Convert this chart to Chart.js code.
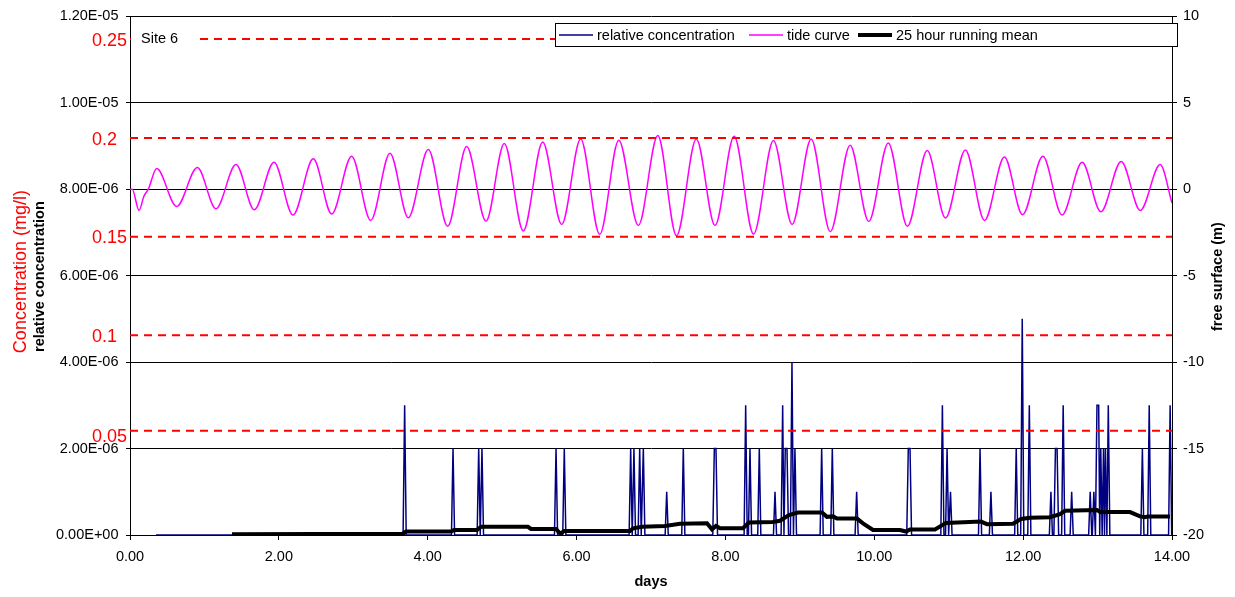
<!DOCTYPE html>
<html>
<head>
<meta charset="utf-8">
<script src="https://cdn.jsdelivr.net/npm/chart.js@4.4.1/dist/chart.umd.min.js"></script>
<style>
html,body{margin:0;padding:0;background:#fff;}
#wrap{width:1235px;height:597px;position:relative;}
</style>
</head>
<body>
<div id="wrap"><canvas id="c"></canvas></div>
<script>
// ---------------- data ----------------
const siteLabel = 'Site 6';
const seriesNames = ['relative concentration', 'tide curve', '25 hour running mean'];

// tide curve (free surface, m) – turning points
const tideDays = [0, 0.03, 0.121, 0.188, 0.246, 0.359,
  0.627, 0.905, 1.155, 1.424, 1.670, 1.935, 2.190, 2.463, 2.710, 2.978,
  3.234, 3.493, 3.739, 4.008, 4.268, 4.523, 4.783, 5.029, 5.284, 5.545,
  5.800, 6.055, 6.311, 6.567, 6.830, 7.091, 7.343, 7.609, 7.860, 8.117,
  8.378, 8.645, 8.896, 9.152, 9.409, 9.675, 9.926, 10.188, 10.445, 10.711,
  10.957, 11.224, 11.481, 11.748, 11.992, 12.265, 12.522, 12.793, 13.044, 13.317,
  13.574, 13.841, 14.0];
const tideLevels = [0, 0, -1.23, -0.40, 0.0, 1.19,
  -1.00, 1.25, -1.13, 1.42, -1.19, 1.56, -1.50, 1.75, -1.44, 1.90,
  -1.81, 2.08, -1.65, 2.29, -2.15, 2.46, -1.85, 2.64, -2.42, 2.73,
  -2.04, 2.90, -2.62, 2.83, -2.10, 3.10, -2.69, 2.90, -2.10, 3.06,
  -2.60, 2.81, -2.04, 2.90, -2.46, 2.54, -1.87, 2.67, -2.15, 2.23,
  -1.67, 2.27, -1.81, 1.86, -1.48, 1.90, -1.50, 1.56, -1.31, 1.60,
  -1.23, 1.42, -0.80];

// relative concentration: record runs from concStart to concEnd, zero except these readings
const concStart = 0.35;
const concEnd = 14.0;
const concDays = [3.690, 4.340, 4.685, 4.729, 5.724, 5.835, 6.727, 6.771, 6.848, 6.897,
  7.211, 7.434, 7.851, 7.873, 8.272, 8.330, 8.455, 8.666, 8.769, 8.804,
  8.827, 8.894, 8.934, 9.293, 9.436, 9.763, 10.457, 10.480, 10.915, 10.978,
  11.024, 11.421, 11.567, 11.907, 11.988, 12.083, 12.373, 12.434, 12.456, 12.538,
  12.652, 12.901, 12.950, 12.992, 13.015, 13.043, 13.080, 13.106, 13.144, 13.602,
  13.694, 13.975];
const concValues = [3e-6, 2e-6, 2e-6, 2e-6, 2e-6, 2e-6, 2e-6, 2e-6, 2e-6, 2e-6,
  1e-6, 2e-6, 2e-6, 2e-6, 3e-6, 2e-6, 2e-6, 1e-6, 3e-6, 2e-6,
  2e-6, 4e-6, 2e-6, 2e-6, 2e-6, 1e-6, 2e-6, 2e-6, 3e-6, 2e-6,
  1e-6, 2e-6, 1e-6, 2e-6, 5e-6, 3e-6, 1e-6, 2e-6, 2e-6, 3e-6,
  1e-6, 1e-6, 1e-6, 3e-6, 3e-6, 2e-6, 2e-6, 2e-6, 3e-6, 2e-6,
  3e-6, 3e-6];

// 25 hour running mean
const meanDays = [1.370, 3.668, 3.708, 4.313, 4.353, 4.662, 4.716, 5.347, 5.388, 5.724,
  5.764, 5.791, 5.831, 6.718, 6.758, 6.879, 7.188, 7.390, 7.752, 7.819,
  7.873, 7.927, 8.236, 8.316, 8.639, 8.733, 8.854, 8.975, 9.297, 9.364,
  9.445, 9.499, 9.768, 9.848, 9.983, 10.345, 10.426, 10.480, 10.816, 10.963,
  11.434, 11.514, 11.864, 11.971, 12.092, 12.361, 12.495, 12.562, 12.992, 13.033,
  13.436, 13.570, 13.637, 13.678, 13.973];
const meanValues = [0.02e-6, 0.03e-6, 0.08e-6, 0.08e-6, 0.115e-6, 0.115e-6, 0.19e-6, 0.19e-6, 0.14e-6, 0.14e-6,
  0.06e-6, 0.04e-6, 0.09e-6, 0.09e-6, 0.155e-6, 0.19e-6, 0.21e-6, 0.26e-6, 0.27e-6, 0.13e-6,
  0.21e-6, 0.155e-6, 0.155e-6, 0.29e-6, 0.30e-6, 0.33e-6, 0.46e-6, 0.52e-6, 0.52e-6, 0.42e-6,
  0.43e-6, 0.38e-6, 0.38e-6, 0.27e-6, 0.115e-6, 0.115e-6, 0.08e-6, 0.13e-6, 0.13e-6, 0.28e-6,
  0.31e-6, 0.25e-6, 0.26e-6, 0.37e-6, 0.40e-6, 0.41e-6, 0.48e-6, 0.56e-6, 0.58e-6, 0.53e-6,
  0.53e-6, 0.43e-6, 0.41e-6, 0.43e-6, 0.43e-6];

// concentration (mg/l) reference levels, placed on the relative-concentration axis
const thresholdLabels = ['0.25', '0.2', '0.15', '0.1', '0.05'];
const thresholdLevels = [1.147e-5, 9.18e-6, 6.90e-6, 4.62e-6, 2.41e-6];

// axes
const xMin = 0, xMax = 14, xStep = 2;
const yMin = 0, yMax = 1.2e-5, yStep = 2e-6;
const y2Min = -20, y2Max = 10, y2Step = 5;
const xTitle = 'days';
const yTitle = 'relative concentration';
const yTitleRed = 'Concentration (mg/l)';
const y2Title = 'free surface (m)';

// ---------------- build ----------------
const FONT = '"Liberation Sans", Arial, sans-serif';
const DT = 1 / 48;

function zip(xs, ys) { return xs.map((x, i) => ({ x: x, y: ys[i] })); }

function buildConc() {
  const pts = [{ x: concStart, y: 0 }];
  for (let i = 0; i < concDays.length; i++) {
    const t = concDays[i], v = concValues[i];
    const prev = pts[pts.length - 1];
    const gap = t - prev.x;
    if (prev.y === 0) {
      if (gap > DT * 1.2) pts.push({ x: t - DT, y: 0 });
    } else {
      if (gap > 2 * DT) { pts.push({ x: prev.x + DT, y: 0 }); pts.push({ x: t - DT, y: 0 }); }
      else if (gap > 1.2 * DT) { pts.push({ x: (prev.x + t) / 2, y: 0 }); }
    }
    pts.push({ x: t, y: v });
  }
  const last = pts[pts.length - 1];
  if (last.y !== 0) pts.push({ x: Math.min(last.x + DT, concEnd), y: 0 });
  pts.push({ x: concEnd, y: 0 });
  return pts;
}

function sci(v) {
  if (Math.abs(v) < 1e-15) return '0.00E+00';
  let e = Math.floor(Math.log10(Math.abs(v)) + 1e-9);
  let m = v / Math.pow(10, e);
  if (Math.abs(m) >= 9.995) { m /= 10; e++; }
  return m.toFixed(2) + 'E' + (e < 0 ? '-' : '+') + String(Math.abs(e)).padStart(2, '0');
}

const datasets = [
  { label: seriesNames[0], data: buildConc(), yAxisID: 'y', borderColor: '#000080', borderWidth: 1.5,
    pointRadius: 0, tension: 0, order: 3 },
  { label: seriesNames[1], data: zip(tideDays, tideLevels), yAxisID: 'y2', borderColor: '#FF00FF', borderWidth: 1.5,
    pointRadius: 0, cubicInterpolationMode: 'monotone', order: 4 },
  { label: seriesNames[2], data: zip(meanDays, meanValues), yAxisID: 'y', borderColor: '#000000', borderWidth: 4,
    pointRadius: 0, tension: 0, order: 2 }
];
thresholdLevels.forEach((lv, i) => {
  datasets.push({ label: 'c' + thresholdLabels[i], data: [{ x: xMin, y: lv }, { x: xMax, y: lv }], yAxisID: 'y',
    borderColor: '#FF0000', borderWidth: 2, borderDash: [8, 6], pointRadius: 0, order: 1 });
});

const tickFont = { family: FONT, size: 14.5 };
const thresholdLabelDy = [6.5, 6.5, 6.5, 6.5, 11];

const overlay = {
  id: 'overlay',
  afterDatasetsDraw(chart) {
    const ctx = chart.ctx, a = chart.chartArea, ys = chart.scales.y;
    ctx.save();
    // Site label box
    const y0 = ys.getPixelForValue(thresholdLevels[0]);
    ctx.fillStyle = '#fff';
    ctx.fillRect(a.left + 1, y0 - 11, 68, 22);
    ctx.fillStyle = '#000';
    ctx.font = '14.5px ' + FONT;
    ctx.textAlign = 'left'; ctx.textBaseline = 'alphabetic';
    ctx.fillText(siteLabel, 141, 42.5);

    // legend
    ctx.fillStyle = '#fff';
    ctx.fillRect(555.5, 23.5, 622, 23);
    ctx.strokeStyle = '#000'; ctx.lineWidth = 1;
    ctx.strokeRect(555.5, 23.5, 622, 23);
    const items = [
      { x0: 559, x1: 593, tx: 597 },
      { x0: 749, x1: 783, tx: 787 },
      { x0: 858, x1: 892, tx: 896 }
    ];
    items.forEach((it, i) => {
      const ds = chart.data.datasets[i];
      ctx.beginPath();
      ctx.strokeStyle = ds.borderColor; ctx.lineWidth = ds.borderWidth;
      ctx.moveTo(it.x0, 35); ctx.lineTo(it.x1, 35); ctx.stroke();
      ctx.fillStyle = '#000';
      ctx.font = '14.5px ' + FONT;
      ctx.fillText(ds.label, it.tx, 40);
    });
    ctx.restore();
  },
  afterDraw(chart) {
    const ctx = chart.ctx, a = chart.chartArea, ys = chart.scales.y, xs = chart.scales.x;
    ctx.save();
    // red concentration labels
    ctx.fillStyle = '#FF0000';
    ctx.font = '18px ' + FONT;
    ctx.textAlign = 'left'; ctx.textBaseline = 'alphabetic';
    thresholdLevels.forEach((lv, i) => {
      ctx.fillText(thresholdLabels[i], 92, ys.getPixelForValue(lv) + thresholdLabelDy[i]);
    });
    const cy = (a.top + a.bottom) / 2;
    // red rotated title
    ctx.save();
    ctx.translate(26, cy - 4); ctx.rotate(-Math.PI / 2);
    ctx.textAlign = 'center'; ctx.fillStyle = '#FF0000'; ctx.font = '18px ' + FONT;
    ctx.fillText(yTitleRed, 0, 0);
    ctx.restore();
    // black left title
    ctx.save();
    ctx.translate(43.5, cy + 1); ctx.rotate(-Math.PI / 2);
    ctx.textAlign = 'center'; ctx.fillStyle = '#000'; ctx.font = 'bold 14.5px ' + FONT;
    ctx.fillText(yTitle, 0, 0);
    ctx.restore();
    // right title
    ctx.save();
    ctx.translate(1222, cy + 1); ctx.rotate(-Math.PI / 2);
    ctx.textAlign = 'center'; ctx.fillStyle = '#000'; ctx.font = 'bold 14.5px ' + FONT;
    ctx.fillText(y2Title, 0, 0);
    ctx.restore();
    // x title
    ctx.textAlign = 'center'; ctx.fillStyle = '#000'; ctx.font = 'bold 14.5px ' + FONT;
    ctx.fillText(xTitle, (a.left + a.right) / 2, 585.5);
    ctx.restore();
  }
};

new Chart(document.getElementById('c'), {
  type: 'line',
  data: { datasets: datasets },
  options: {
    responsive: true,
    maintainAspectRatio: false,
    animation: false,
    events: [],
    layout: { padding: { top: 15, left: 0, right: 0, bottom: 0 } },
    plugins: { legend: { display: false }, tooltip: { enabled: false }, title: { display: false } },
    elements: { line: { fill: false } },
    scales: {
      x: {
        type: 'linear', position: 'bottom', min: xMin, max: xMax,
        ticks: { stepSize: xStep, callback: v => Number(v).toFixed(2), color: '#000', font: tickFont,
          padding: 8, maxRotation: 0, autoSkip: false },
        grid: { drawOnChartArea: false, drawTicks: true, tickLength: 5, color: '#000', lineWidth: 1 },
        border: { display: true, color: '#000', width: 1 },
        afterFit(s) { s.height = 62; }
      },
      y: {
        type: 'linear', position: 'left', min: yMin, max: yMax,
        ticks: { stepSize: yStep, callback: v => sci(v), color: '#000', font: tickFont, padding: 7.5 },
        grid: { color: '#000', lineWidth: 1, drawTicks: true, tickLength: 4 },
        border: { display: true, color: '#000', width: 1 },
        afterFit(s) { s.width = 130; }
      },
      y2: {
        type: 'linear', position: 'right', min: y2Min, max: y2Max,
        ticks: { stepSize: y2Step, callback: v => String(v), color: '#000', font: tickFont, padding: 6 },
        grid: { drawOnChartArea: false, drawTicks: true, tickLength: 5, color: '#000', lineWidth: 1 },
        border: { display: true, color: '#000', width: 1 },
        afterFit(s) { s.width = 63; }
      }
    }
  },
  plugins: [overlay]
});
</script>
</body>
</html>
